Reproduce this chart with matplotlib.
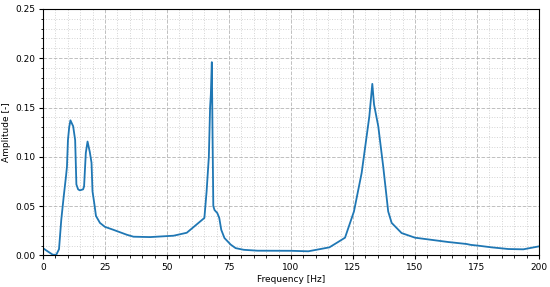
import matplotlib
matplotlib.use('Agg')
import matplotlib.pyplot as plt
import numpy as np
from matplotlib.ticker import MultipleLocator

BLUE = '#1f77b4'

freq = [0, 2, 4, 5.4, 6.5, 7.4, 8.4, 9.3, 9.7, 10.1, 10.6, 11.1, 12.2, 13.0, 13.5, 14.2, 14.9,
        16.2, 16.6, 17.3, 18.0, 18.9, 19.6, 20.0, 20.7, 21.4, 23.0, 25.0, 28.4, 33.8, 36.5,
        43.2, 52.7, 58.0, 65.1, 66.0, 66.9, 67.4, 67.7, 68.1, 68.4, 68.7, 69.2, 70.3, 71.1,
        71.9, 73.2, 75.7, 77.7, 81.0, 86.5, 100.0, 107.0, 115.5, 119.0, 121.8, 125.4, 128.5,
        131.6, 132.8, 133.5, 135.2, 137.2, 139.2, 140.6, 144.6, 150.0, 163.4, 170.8, 172.5,
        175.5, 180.9, 187.6, 193.7, 200.0]
amp = [0.0074, 0.004, 0.0007, 0.0007, 0.0064, 0.036, 0.060, 0.080, 0.090, 0.117, 0.130,
       0.137, 0.131, 0.117, 0.072, 0.067, 0.066, 0.067, 0.070, 0.104, 0.1155, 0.105, 0.094,
       0.065, 0.053, 0.040, 0.033, 0.029, 0.026, 0.021, 0.019, 0.0186, 0.020, 0.023, 0.038,
       0.065, 0.100, 0.150, 0.163, 0.196, 0.120, 0.050, 0.046, 0.043, 0.038, 0.026, 0.0176,
       0.011, 0.0074, 0.0057, 0.0048, 0.0047, 0.0042, 0.0082, 0.0136, 0.018, 0.0446, 0.0836,
       0.141, 0.174, 0.153, 0.131, 0.090, 0.0446, 0.033, 0.0227, 0.018, 0.0136, 0.0116,
       0.0107, 0.0099, 0.0082, 0.0065, 0.0062, 0.0092]

fig = plt.figure(figsize=(5.5, 2.87), dpi=100)
ax = fig.add_axes([0.078, 0.11, 0.902, 0.859])
ax.plot(freq, amp, color=BLUE, linewidth=1.3)

ax.set_xlim(0, 200)
ax.set_ylim(0, 0.25)
ax.xaxis.set_major_locator(MultipleLocator(25))
ax.xaxis.set_minor_locator(MultipleLocator(5))
ax.yaxis.set_major_locator(MultipleLocator(0.05))
ax.yaxis.set_minor_locator(MultipleLocator(0.01))
ax.grid(True, which='major', color='#b0b0b0', linestyle='--', linewidth=0.7, alpha=0.8)
ax.grid(True, which='minor', color='#c8c8c8', linestyle=':', linewidth=0.7, alpha=0.8)
ax.tick_params(which='major', labelsize=6.5, length=3, pad=2.5)
ax.tick_params(which='minor', length=1.8)
ax.set_xlabel('Frequency [Hz]', fontsize=6.5, labelpad=2)
ax.set_ylabel('Amplitude [-]', fontsize=6.5, labelpad=3)

fig.savefig('out.png', dpi=100)
